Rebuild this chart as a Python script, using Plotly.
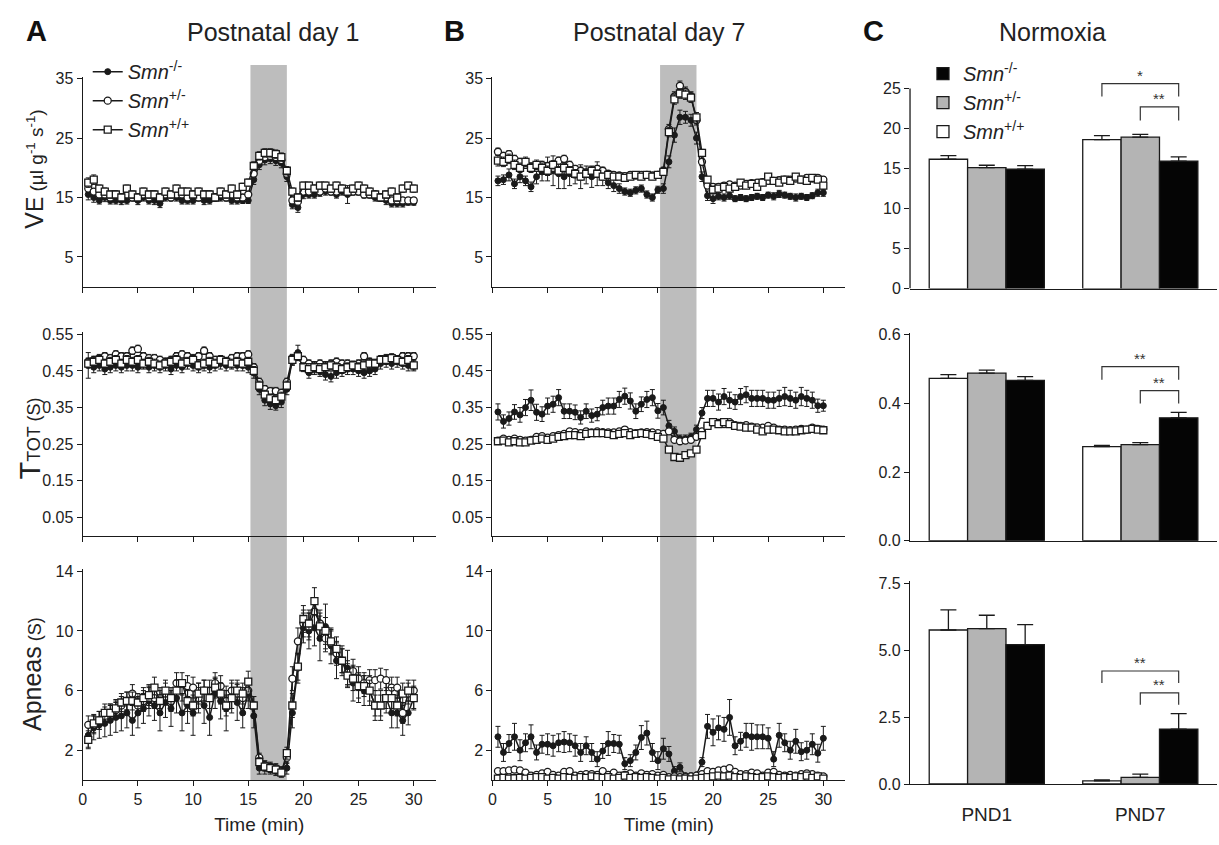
import plotly.graph_objects as go

# ---------------- data ----------------
TIME = [0.5, 1.0, 1.5, 2.0, 2.5, 3.0, 3.5, 4.0, 4.5, 5.0,
        5.5, 6.0, 6.5, 7.0, 7.5, 8.0, 8.5, 9.0, 9.5, 10.0,
        10.5, 11.0, 11.5, 12.0, 12.5, 13.0, 13.5, 14.0, 14.5, 15.0,
        15.5, 16.0, 16.5, 17.0, 17.5, 18.0, 18.5, 19.0, 19.5, 20.0,
        20.5, 21.0, 21.5, 22.0, 22.5, 23.0, 23.5, 24.0, 24.5, 25.0,
        25.5, 26.0, 26.5, 27.0, 27.5, 28.0, 28.5, 29.0, 29.5, 30.0]
HYPOXIA = [15.2, 18.5]
X_TICKS = [0, 5, 10, 15, 20, 25, 30]

GENOTYPES = ["KO", "HET", "WT"]
LABELS = {"KO": "<i>Smn</i><sup>-/-</sup>",
          "HET": "<i>Smn</i><sup>+/-</sup>",
          "WT": "<i>Smn</i><sup>+/+</sup>"}

# --- Ventilation (VE), PND1 ---
VE_P1_KO = [15.5, 15.0, 14.5, 15.0, 14.5, 14.5, 14.5, 14.5, 15.0, 14.5,
            15.0, 14.5, 14.5, 14.0, 15.0, 15.0, 15.0, 14.5, 14.5, 14.5,
            15.0, 14.5, 14.5, 15.0, 15.0, 15.0, 14.5, 14.5, 14.5, 14.5,
            18.0, 20.5, 21.3, 21.5, 21.2, 20.8, 18.5, 13.8, 13.3, 15.5,
            15.5, 15.5, 15.8, 16.0, 16.0, 15.5, 16.0, 15.5, 16.0, 16.0,
            15.5, 15.5, 15.0, 15.0, 14.5, 14.0, 14.0, 14.0, 14.2, 14.2]
VE_P1_KO_ERR = [0.9, 0.8, 0.6, 0.7, 0.6, 0.6, 0.7, 0.6, 0.6, 0.7,
                0.6, 0.6, 0.7, 0.7, 0.6, 0.6, 0.6, 0.6, 0.6, 0.6,
                0.6, 0.7, 0.6, 0.6, 0.6, 0.6, 0.6, 0.6, 0.5, 0.5,
                0.8, 0.8, 0.8, 0.8, 0.8, 0.8, 0.8, 0.7, 0.8, 0.7,
                0.6, 0.6, 0.6, 0.6, 0.6, 0.6, 0.6, 1.5, 0.6, 0.6,
                0.6, 0.6, 0.6, 0.6, 0.7, 0.6, 0.6, 0.6, 0.5, 0.5]
VE_P1_HET = [16.5, 16.0, 15.5, 15.5, 15.0, 15.5, 15.0, 15.5, 15.0, 15.0,
             15.5, 15.0, 15.5, 15.0, 15.5, 15.0, 15.5, 15.5, 15.0, 15.5,
             15.0, 15.5, 15.5, 15.0, 15.5, 15.0, 15.5, 15.0, 15.0, 15.5,
             19.0, 21.2, 21.8, 22.0, 21.8, 21.3, 19.0, 14.5, 14.3, 16.0,
             16.0, 16.5, 16.0, 16.5, 16.0, 16.0, 16.5, 16.0, 16.0, 16.0,
             15.5, 15.5, 15.5, 15.0, 15.0, 14.5, 14.5, 14.5, 14.5, 14.5]
VE_P1_HET_ERR = [0.6, 0.5, 0.5, 0.5, 0.5, 0.5, 0.5, 0.5, 0.5, 0.5,
                 0.5, 0.5, 0.5, 0.5, 0.5, 0.5, 0.5, 0.5, 0.5, 0.5,
                 0.5, 0.5, 0.5, 0.5, 0.5, 0.5, 0.5, 0.5, 0.5, 0.5,
                 0.6, 0.6, 0.6, 0.6, 0.6, 0.6, 0.6, 0.6, 0.6, 0.5,
                 0.5, 0.5, 0.5, 0.5, 0.5, 0.5, 0.5, 0.5, 0.5, 0.5,
                 0.5, 0.5, 0.5, 0.5, 0.5, 0.5, 0.5, 0.5, 0.5, 0.5]
VE_P1_WT = [17.5, 18.0, 16.5, 16.0, 15.5, 15.5, 15.0, 16.5, 15.5, 15.0,
            16.0, 15.5, 15.5, 15.0, 16.0, 15.5, 16.5, 16.0, 16.0, 15.5,
            16.0, 15.5, 15.5, 15.0, 16.0, 15.5, 16.5, 15.5, 16.8, 17.5,
            20.3, 22.0, 22.5, 22.5, 22.3, 21.8, 19.5, 16.0, 15.0, 17.0,
            17.0, 16.5, 17.0, 17.0, 16.5, 17.0, 16.5, 16.0, 16.5, 17.0,
            16.5, 16.0, 15.5, 15.0, 15.5, 16.0, 15.0, 16.5, 17.0, 16.5]
VE_P1_WT_ERR = [0.8, 0.8, 0.6, 0.6, 0.6, 0.6, 0.6, 0.6, 0.6, 0.6,
                0.6, 0.6, 0.6, 0.6, 0.6, 0.6, 0.6, 0.6, 0.6, 0.6,
                0.6, 0.6, 0.6, 0.6, 0.6, 0.6, 0.6, 0.6, 0.6, 0.6,
                0.7, 0.7, 0.7, 0.7, 0.7, 0.7, 0.7, 0.6, 0.6, 0.6,
                0.6, 0.6, 0.6, 0.6, 0.6, 0.6, 0.6, 0.6, 0.6, 0.6,
                0.6, 0.6, 0.6, 0.6, 0.6, 0.6, 0.6, 0.6, 0.6, 0.6]

# --- Ventilation (VE), PND7 ---
VE_P7_KO = [17.8, 18.0, 18.8, 17.3, 18.5, 17.8, 16.8, 18.5, 19.3, 19.8,
            19.5, 19.0, 18.5, 19.0, 18.8, 18.5, 18.8, 18.5, 19.0, 18.5,
            17.5, 17.0, 16.5, 16.0, 15.8, 16.2, 16.5, 15.5, 15.0, 16.3,
            16.5, 21.0, 25.5, 28.5, 28.5, 28.0, 25.0, 18.5, 15.3, 14.8,
            15.2, 15.0, 15.3, 14.8, 15.0, 14.8, 15.0, 15.2, 15.0, 15.4,
            15.2, 15.6, 15.4, 15.2, 15.0, 15.2, 15.0, 15.3, 15.8, 15.8]
VE_P7_KO_ERR = [0.8, 0.8, 1.0, 0.8, 1.0, 0.8, 0.8, 1.2, 1.5, 2.0,
                2.5, 2.5, 2.0, 2.0, 1.5, 2.0, 1.5, 1.8, 2.0, 1.5,
                1.0, 1.0, 0.8, 0.6, 0.6, 0.6, 0.6, 0.6, 0.6, 0.6,
                0.8, 1.0, 1.2, 1.2, 1.0, 1.0, 1.0, 0.8, 0.8, 0.8,
                0.6, 0.6, 0.6, 0.5, 0.5, 0.5, 0.5, 0.5, 0.5, 0.5,
                0.6, 0.6, 0.5, 0.5, 0.6, 0.5, 0.5, 0.5, 0.6, 0.6]
VE_P7_HET = [22.7, 22.0, 22.3, 21.5, 21.0, 20.5, 20.2, 20.0, 20.5, 20.3,
             20.0, 21.2, 21.5, 20.5, 19.8, 19.5, 19.2, 19.5, 19.8, 19.5,
             19.0, 18.8, 18.7, 18.6, 18.8, 18.7, 18.8, 18.8, 18.7, 18.8,
             19.5, 26.5, 32.0, 33.8, 32.8, 32.0, 28.0, 21.0, 17.0, 16.8,
             16.8, 17.0, 17.2, 17.0, 17.0, 17.3, 17.4, 17.5, 17.6, 17.8,
             17.8, 17.9, 18.0, 18.0, 18.2, 18.0, 18.3, 18.2, 18.3, 18.0]
VE_P7_HET_ERR = [0.6, 0.6, 0.6, 0.6, 0.6, 0.6, 0.6, 0.6, 0.6, 0.6,
                 0.6, 0.6, 0.6, 0.6, 0.6, 0.6, 0.6, 0.6, 0.6, 0.6,
                 0.5, 0.5, 0.5, 0.5, 0.5, 0.5, 0.5, 0.5, 0.5, 0.5,
                 0.6, 0.8, 0.8, 0.8, 0.8, 0.8, 0.8, 0.6, 0.5, 0.5,
                 0.5, 0.5, 0.5, 0.5, 0.5, 0.5, 0.5, 0.5, 0.5, 0.5,
                 0.5, 0.5, 0.5, 0.5, 0.5, 0.5, 0.5, 0.5, 0.5, 0.5]
VE_P7_WT = [21.2, 21.0, 21.5, 20.5, 20.0, 21.0, 20.0, 20.5, 20.0, 19.5,
            20.5, 19.5, 20.0, 19.5, 19.0, 18.5, 19.0, 19.5, 19.0, 18.5,
            18.8, 18.5, 18.5, 18.3, 18.5, 18.8, 18.5, 18.8, 18.5, 18.8,
            19.3, 26.0, 31.5, 32.5, 32.3, 31.8, 28.5, 22.5, 18.0, 16.3,
            16.5, 16.8, 16.5, 16.8, 17.5, 17.0, 17.3, 16.8, 17.5, 18.5,
            17.8, 17.5, 18.0, 17.8, 18.5, 18.0, 17.8, 18.3, 18.0, 17.0]
VE_P7_WT_ERR = [0.9, 0.8, 0.8, 0.8, 0.8, 0.8, 0.8, 0.8, 0.8, 0.8,
                0.7, 0.7, 0.7, 0.7, 0.7, 0.6, 0.6, 0.6, 0.6, 0.6,
                0.5, 0.5, 0.5, 0.5, 0.5, 0.5, 0.5, 0.5, 0.5, 0.5,
                0.6, 0.8, 0.8, 0.8, 0.8, 0.8, 0.8, 0.6, 0.5, 0.5,
                0.5, 0.5, 0.5, 0.5, 0.5, 0.5, 0.5, 0.5, 0.5, 0.5,
                0.5, 0.5, 0.5, 0.5, 0.5, 0.5, 0.5, 0.5, 0.5, 0.5]

# --- Total breath duration (TTOT), PND1 ---
TT_P1_KO = [0.465, 0.46, 0.465, 0.455, 0.46, 0.465, 0.46, 0.465, 0.465, 0.46,
            0.47, 0.46, 0.465, 0.46, 0.465, 0.455, 0.465, 0.46, 0.47, 0.465,
            0.46, 0.465, 0.46, 0.465, 0.47, 0.465, 0.47, 0.465, 0.465, 0.46,
            0.445, 0.40, 0.37, 0.36, 0.355, 0.365, 0.40, 0.48, 0.50, 0.47,
            0.445, 0.455, 0.45, 0.44, 0.435, 0.445, 0.45, 0.455, 0.455, 0.45,
            0.445, 0.45, 0.455, 0.47, 0.475, 0.47, 0.475, 0.47, 0.465, 0.465]
TT_P1_KO_ERR = [0.035, 0.015, 0.015, 0.015, 0.015, 0.015, 0.015, 0.015, 0.015, 0.015,
                0.015, 0.015, 0.015, 0.015, 0.015, 0.015, 0.015, 0.015, 0.015, 0.015,
                0.015, 0.015, 0.015, 0.015, 0.015, 0.015, 0.015, 0.015, 0.015, 0.015,
                0.015, 0.015, 0.015, 0.015, 0.012, 0.015, 0.015, 0.015, 0.02, 0.015,
                0.015, 0.015, 0.015, 0.015, 0.015, 0.015, 0.015, 0.015, 0.015, 0.015,
                0.015, 0.015, 0.015, 0.015, 0.015, 0.015, 0.015, 0.015, 0.015, 0.015]
TT_P1_HET = [0.475, 0.48, 0.485, 0.49, 0.485, 0.495, 0.49, 0.49, 0.505, 0.51,
             0.49, 0.485, 0.485, 0.48, 0.475, 0.48, 0.49, 0.495, 0.49, 0.485,
             0.49, 0.505, 0.49, 0.48, 0.48, 0.475, 0.485, 0.49, 0.49, 0.495,
             0.46, 0.42, 0.40, 0.395, 0.395, 0.39, 0.42, 0.485, 0.49, 0.48,
             0.47, 0.465, 0.47, 0.465, 0.47, 0.475, 0.47, 0.47, 0.465, 0.47,
             0.49, 0.475, 0.47, 0.48, 0.485, 0.485, 0.48, 0.49, 0.49, 0.49]
TT_P1_HET_ERR = [0.01, 0.01, 0.01, 0.01, 0.01, 0.01, 0.01, 0.01, 0.01, 0.01,
                 0.01, 0.01, 0.01, 0.01, 0.01, 0.01, 0.01, 0.01, 0.01, 0.01,
                 0.01, 0.01, 0.01, 0.01, 0.01, 0.01, 0.01, 0.01, 0.01, 0.01,
                 0.01, 0.01, 0.01, 0.01, 0.01, 0.01, 0.01, 0.01, 0.01, 0.01,
                 0.01, 0.01, 0.01, 0.01, 0.01, 0.01, 0.01, 0.01, 0.01, 0.01,
                 0.01, 0.01, 0.01, 0.01, 0.01, 0.01, 0.01, 0.01, 0.01, 0.01]
TT_P1_WT = [0.47, 0.475, 0.48, 0.47, 0.475, 0.48, 0.47, 0.48, 0.475, 0.48,
            0.47, 0.475, 0.47, 0.465, 0.47, 0.475, 0.48, 0.47, 0.475, 0.48,
            0.465, 0.47, 0.475, 0.47, 0.48, 0.475, 0.47, 0.475, 0.47, 0.475,
            0.45, 0.41, 0.385, 0.375, 0.37, 0.38, 0.41, 0.48, 0.49, 0.46,
            0.455, 0.46, 0.455, 0.46, 0.465, 0.46, 0.455, 0.46, 0.465, 0.46,
            0.465, 0.47, 0.47, 0.48, 0.48, 0.485, 0.48, 0.475, 0.48, 0.465]
TT_P1_WT_ERR = [0.012, 0.012, 0.012, 0.012, 0.012, 0.012, 0.012, 0.012, 0.012, 0.012,
                0.012, 0.012, 0.012, 0.012, 0.012, 0.012, 0.012, 0.012, 0.012, 0.012,
                0.012, 0.012, 0.012, 0.012, 0.012, 0.012, 0.012, 0.012, 0.012, 0.012,
                0.012, 0.012, 0.012, 0.012, 0.012, 0.012, 0.012, 0.012, 0.012, 0.012,
                0.015, 0.015, 0.015, 0.015, 0.012, 0.012, 0.012, 0.012, 0.012, 0.012,
                0.012, 0.012, 0.012, 0.012, 0.012, 0.012, 0.012, 0.012, 0.012, 0.012]

# --- Total breath duration (TTOT), PND7 ---
TT_P7_KO = [0.338, 0.312, 0.32, 0.338, 0.33, 0.35, 0.37, 0.337, 0.332, 0.354,
            0.359, 0.377, 0.34, 0.34, 0.337, 0.323, 0.34, 0.328, 0.332, 0.35,
            0.354, 0.354, 0.372, 0.381, 0.368, 0.34, 0.359, 0.372, 0.377, 0.341,
            0.35, 0.30, 0.285, 0.265, 0.265, 0.27, 0.29, 0.335, 0.375, 0.375,
            0.365, 0.38, 0.37, 0.365, 0.38, 0.385, 0.375, 0.375, 0.375, 0.37,
            0.37, 0.375, 0.38, 0.375, 0.37, 0.38, 0.375, 0.37, 0.355, 0.355]
TT_P7_KO_ERR = [0.022, 0.018, 0.018, 0.02, 0.02, 0.022, 0.028, 0.022, 0.02, 0.022,
                0.022, 0.022, 0.02, 0.02, 0.02, 0.018, 0.02, 0.018, 0.018, 0.02,
                0.022, 0.022, 0.022, 0.022, 0.022, 0.02, 0.02, 0.022, 0.022, 0.02,
                0.02, 0.015, 0.012, 0.01, 0.01, 0.01, 0.012, 0.015, 0.022, 0.022,
                0.022, 0.022, 0.022, 0.02, 0.022, 0.022, 0.022, 0.022, 0.022, 0.022,
                0.022, 0.022, 0.025, 0.022, 0.022, 0.025, 0.022, 0.022, 0.018, 0.015]
TT_P7_HET = [0.26, 0.265, 0.262, 0.265, 0.262, 0.26, 0.262, 0.27, 0.272, 0.268,
             0.272, 0.275, 0.278, 0.285, 0.283, 0.28, 0.285, 0.282, 0.285, 0.283,
             0.282, 0.282, 0.285, 0.29, 0.283, 0.28, 0.282, 0.283, 0.282, 0.28,
             0.278, 0.285, 0.262, 0.258, 0.26, 0.262, 0.27, 0.285, 0.30, 0.31,
             0.308, 0.305, 0.31, 0.302, 0.30, 0.302, 0.298, 0.296, 0.295, 0.30,
             0.295, 0.29, 0.29, 0.288, 0.29, 0.292, 0.29, 0.295, 0.292, 0.29]
TT_P7_HET_ERR = [0.004, 0.004, 0.004, 0.004, 0.004, 0.004, 0.004, 0.004, 0.004, 0.004,
                 0.004, 0.004, 0.004, 0.004, 0.004, 0.004, 0.004, 0.004, 0.004, 0.004,
                 0.004, 0.004, 0.004, 0.004, 0.004, 0.004, 0.004, 0.004, 0.004, 0.004,
                 0.004, 0.004, 0.004, 0.004, 0.004, 0.004, 0.004, 0.004, 0.004, 0.004,
                 0.004, 0.004, 0.004, 0.004, 0.004, 0.004, 0.004, 0.004, 0.004, 0.004,
                 0.004, 0.004, 0.004, 0.004, 0.004, 0.004, 0.004, 0.004, 0.004, 0.004]
TT_P7_WT = [0.258, 0.26, 0.255, 0.258, 0.255, 0.255, 0.26, 0.262, 0.265, 0.262,
            0.265, 0.27, 0.272, 0.275, 0.275, 0.272, 0.278, 0.28, 0.28, 0.28,
            0.278, 0.275, 0.278, 0.28, 0.275, 0.278, 0.28, 0.278, 0.275, 0.27,
            0.265, 0.235, 0.215, 0.213, 0.22, 0.225, 0.235, 0.275, 0.30, 0.31,
            0.305, 0.31, 0.305, 0.30, 0.298, 0.295, 0.295, 0.29, 0.285, 0.29,
            0.29, 0.288, 0.285, 0.285, 0.285, 0.288, 0.29, 0.292, 0.29, 0.288]
TT_P7_WT_ERR = [0.004, 0.004, 0.004, 0.004, 0.004, 0.004, 0.004, 0.004, 0.004, 0.004,
                0.004, 0.004, 0.004, 0.004, 0.004, 0.004, 0.004, 0.004, 0.004, 0.004,
                0.004, 0.004, 0.004, 0.004, 0.004, 0.004, 0.004, 0.004, 0.004, 0.004,
                0.004, 0.004, 0.004, 0.004, 0.004, 0.004, 0.004, 0.004, 0.004, 0.004,
                0.004, 0.004, 0.004, 0.004, 0.004, 0.004, 0.004, 0.004, 0.004, 0.004,
                0.004, 0.004, 0.004, 0.004, 0.004, 0.004, 0.004, 0.004, 0.004, 0.004]

# --- Apneas, PND1 ---
AP_P1_KO = [3.0, 3.5, 3.7, 3.8, 4.0, 4.2, 4.3, 4.5, 4.0, 4.5,
            4.8, 5.3, 5.0, 4.5, 5.2, 4.8, 5.5, 4.5, 5.0, 4.5,
            5.5, 5.0, 4.2, 5.8, 5.3, 4.8, 5.5, 5.2, 4.5, 5.8,
            4.3, 0.8, 0.8, 0.7, 0.6, 0.5, 0.8, 4.5, 7.5, 10.2,
            10.0, 10.2, 9.5, 10.3, 9.0, 8.0, 8.0, 7.5, 6.5, 6.2,
            6.0, 6.0, 5.0, 5.0, 5.5, 4.5, 4.5, 4.0, 4.5, 5.5]
AP_P1_KO_ERR = [0.8, 0.8, 0.9, 0.9, 1.0, 1.0, 1.0, 1.0, 1.0, 1.0,
                1.0, 1.0, 1.0, 1.2, 1.0, 1.2, 1.0, 1.2, 1.2, 1.5,
                1.0, 1.2, 1.2, 1.0, 1.2, 1.5, 1.0, 1.2, 1.0, 1.0,
                0.8, 0.4, 0.4, 0.3, 0.3, 0.3, 0.4, 1.0, 1.0, 1.0,
                1.2, 1.2, 1.5, 1.5, 1.2, 1.2, 1.0, 1.2, 1.2, 1.0,
                1.0, 1.0, 1.0, 1.0, 1.0, 1.0, 1.0, 1.0, 0.8, 0.8]
AP_P1_HET = [3.7, 3.7, 4.0, 4.3, 4.5, 4.7, 5.0, 5.3, 5.8, 5.0,
             5.3, 5.5, 5.5, 5.5, 5.8, 5.3, 6.5, 6.0, 6.3, 6.2,
             5.5, 6.0, 6.0, 6.5, 6.3, 5.3, 6.0, 5.8, 5.5, 6.0,
             5.0, 1.5, 1.0, 0.9, 0.8, 0.6, 1.5, 6.8, 9.3, 10.5,
             10.3, 11.3, 10.5, 9.5, 9.2, 8.5, 8.0, 7.2, 7.3, 6.8,
             6.5, 6.7, 6.7, 6.8, 6.7, 6.2, 6.2, 4.5, 5.8, 6.0]
AP_P1_HET_ERR = [0.6, 0.6, 0.6, 0.6, 0.6, 0.6, 0.6, 0.6, 0.6, 0.6,
                 0.7, 0.7, 0.7, 0.7, 0.7, 0.7, 0.7, 0.7, 0.7, 0.7,
                 0.7, 0.7, 0.7, 0.7, 0.7, 0.7, 0.7, 0.7, 0.7, 0.7,
                 0.6, 0.3, 0.3, 0.3, 0.3, 0.3, 0.4, 0.8, 0.9, 0.9,
                 0.9, 0.9, 0.9, 0.9, 0.8, 0.8, 0.8, 0.8, 0.8, 0.8,
                 0.7, 0.7, 0.7, 0.7, 0.7, 0.7, 0.7, 0.7, 0.7, 0.7]
AP_P1_WT = [2.7, 3.8, 4.0, 4.5, 4.5, 4.8, 5.2, 5.3, 5.3, 5.2,
            5.5, 5.7, 6.2, 5.3, 6.0, 5.5, 6.0, 6.5, 5.3, 5.0,
            5.8, 6.0, 5.5, 6.2, 5.8, 5.0, 5.5, 6.0, 5.8, 6.6,
            5.0, 1.2, 0.9, 0.8, 0.7, 0.5, 1.8, 5.0, 7.6, 10.8,
            10.5, 12.0, 10.3, 10.0, 9.3, 8.8, 8.0, 7.0, 6.8, 6.3,
            6.3, 6.0, 5.0, 5.0, 5.5, 5.5, 5.0, 5.8, 6.0, 5.5]
AP_P1_WT_ERR = [0.6, 0.6, 0.6, 0.6, 0.6, 0.6, 0.6, 0.6, 0.6, 0.6,
                0.7, 0.7, 0.7, 0.7, 0.7, 0.7, 0.7, 0.7, 0.7, 0.7,
                0.7, 0.7, 0.7, 0.7, 0.7, 0.7, 0.7, 0.7, 0.7, 0.7,
                0.6, 0.3, 0.3, 0.3, 0.3, 0.3, 0.4, 0.8, 0.9, 0.9,
                0.9, 0.9, 0.9, 0.9, 0.8, 0.8, 0.8, 0.8, 0.8, 0.8,
                0.7, 0.7, 0.7, 0.7, 0.7, 0.7, 0.7, 0.7, 0.7, 0.7]

# --- Apneas, PND7 ---
AP_P7_KO = [2.9, 1.85, 2.45, 2.9, 2.0, 2.5, 2.9, 1.85, 2.4, 2.4,
            2.3, 2.5, 2.55, 2.5, 2.3, 1.85, 2.3, 1.85, 1.4, 1.95,
            2.45, 2.45, 2.4, 1.1, 1.3, 1.85, 2.85, 3.15, 1.85, 1.3,
            2.1, 1.75, 0.6, 0.85, 0.3, 0.3, 0.35, 1.2, 3.6, 3.2,
            3.5, 3.4, 4.2, 2.3, 2.6, 3.0, 2.9, 2.9, 2.9, 2.8,
            1.4, 3.0, 2.5, 2.0, 2.6, 1.9, 2.0, 2.4, 1.8, 2.8]
AP_P7_KO_ERR = [0.7, 0.6, 0.6, 0.9, 0.7, 0.6, 0.8, 0.5, 0.6, 0.7,
                0.7, 0.6, 0.7, 0.6, 0.7, 0.6, 0.6, 0.6, 0.5, 0.5,
                0.8, 0.6, 0.6, 0.4, 0.4, 0.5, 0.8, 0.8, 0.6, 0.6,
                0.7, 0.5, 0.3, 0.3, 0.1, 0.1, 0.1, 0.3, 0.8, 0.9,
                0.8, 0.8, 1.2, 0.6, 0.6, 0.8, 0.9, 0.8, 0.8, 0.7,
                0.5, 0.8, 0.6, 0.6, 0.8, 0.6, 0.6, 0.7, 0.6, 0.8]
AP_P7_HET = [0.6, 0.6, 0.65, 0.7, 0.65, 0.5, 0.3, 0.35, 0.45, 0.55,
             0.35, 0.3, 0.55, 0.6, 0.3, 0.35, 0.4, 0.4, 0.35, 0.6,
             0.35, 0.5, 0.3, 0.35, 0.45, 0.3, 0.45, 0.35, 0.4, 0.3,
             0.35, 0.2, 0.25, 0.2, 0.2, 0.25, 0.3, 0.4, 0.6, 0.55,
             0.65, 0.7, 0.8, 0.55, 0.4, 0.4, 0.5, 0.45, 0.3, 0.5,
             0.55, 0.35, 0.3, 0.35, 0.3, 0.4, 0.45, 0.4, 0.3, 0.25]
AP_P7_HET_ERR = [0.1, 0.1, 0.1, 0.1, 0.1, 0.1, 0.1, 0.1, 0.1, 0.1,
                 0.1, 0.1, 0.1, 0.1, 0.1, 0.1, 0.1, 0.1, 0.1, 0.1,
                 0.1, 0.1, 0.1, 0.1, 0.1, 0.1, 0.1, 0.1, 0.1, 0.1,
                 0.1, 0.1, 0.1, 0.1, 0.1, 0.1, 0.1, 0.1, 0.1, 0.1,
                 0.1, 0.1, 0.1, 0.1, 0.1, 0.1, 0.1, 0.1, 0.1, 0.1,
                 0.1, 0.1, 0.1, 0.1, 0.1, 0.1, 0.1, 0.1, 0.1, 0.1]
AP_P7_WT = [0.1, 0.15, 0.1, 0.12, 0.15, 0.1, 0.15, 0.2, 0.2, 0.1,
            0.15, 0.1, 0.2, 0.15, 0.1, 0.2, 0.15, 0.25, 0.2, 0.15,
            0.2, 0.1, 0.15, 0.3, 0.15, 0.2, 0.15, 0.2, 0.15, 0.1,
            0.15, 0.05, 0.1, 0.05, 0.1, 0.05, 0.1, 0.15, 0.2, 0.25,
            0.3, 0.25, 0.3, 0.2, 0.15, 0.25, 0.2, 0.15, 0.2, 0.25,
            0.2, 0.15, 0.2, 0.15, 0.25, 0.2, 0.3, 0.15, 0.25, 0.1]
AP_P7_WT_ERR = [0.06, 0.06, 0.06, 0.06, 0.06, 0.06, 0.06, 0.06, 0.06, 0.06,
                0.06, 0.06, 0.06, 0.06, 0.06, 0.06, 0.06, 0.06, 0.06, 0.06,
                0.06, 0.06, 0.06, 0.06, 0.06, 0.06, 0.06, 0.06, 0.06, 0.06,
                0.06, 0.06, 0.06, 0.06, 0.06, 0.06, 0.06, 0.06, 0.06, 0.06,
                0.06, 0.06, 0.06, 0.06, 0.06, 0.06, 0.06, 0.06, 0.06, 0.06,
                0.06, 0.06, 0.06, 0.06, 0.06, 0.06, 0.06, 0.06, 0.06, 0.06]

# --- Normoxia bar data (groups PND1, PND7) ---
GROUPS = ["PND1", "PND7"]
VE_BAR = {"WT": [16.15, 18.6], "HET": [15.1, 18.9], "KO": [14.9, 15.9]}
VE_BAR_ERR = {"WT": [0.45, 0.5], "HET": [0.3, 0.35], "KO": [0.45, 0.55]}
TT_BAR = {"WT": [0.473, 0.274], "HET": [0.488, 0.280], "KO": [0.467, 0.358]}
TT_BAR_ERR = {"WT": [0.011, 0.004], "HET": [0.009, 0.006], "KO": [0.011, 0.016]}
AP_BAR = {"WT": [5.75, 0.12], "HET": [5.8, 0.25], "KO": [5.2, 2.05]}
AP_BAR_ERR = {"WT": [0.75, 0.03], "HET": [0.5, 0.12], "KO": [0.75, 0.58]}
# significance brackets on PND7: (from, to, top, leg end, label)
VE_SIG = [("WT", "KO", 25.6, 24.0, "*"), ("HET", "KO", 22.7, 21.0, "**")]
TT_SIG = [("WT", "KO", 0.507, 0.469, "**"), ("HET", "KO", 0.437, 0.400, "**")]
AP_SIG = [("WT", "KO", 4.22, 3.77, "**"), ("HET", "KO", 3.40, 2.96, "**")]

# ---------------- style ----------------
FONT = "Liberation Sans, Arial, Helvetica, sans-serif"
INK = "#1a1a1a"
W, H = 1219, 845
MARKERS = {
    "KO": dict(symbol="circle", size=6, color=INK, line=dict(color=INK, width=1)),
    "HET": dict(symbol="circle", size=7, color="white", line=dict(color=INK, width=1.3)),
    "WT": dict(symbol="square", size=7, color="white", line=dict(color=INK, width=1.3)),
}
BAR_FILL = {"WT": "white", "HET": "#b4b4b4", "KO": "#050505"}
BAR_OFFSET = {"WT": -0.25, "HET": 0.0, "KO": 0.25}
BAR_WIDTH = 0.25

X_DOM = [[0.0648, 0.3554], [0.402, 0.6925], [0.7457, 0.9984]]
Y_DOM_TS = [[0.6627, 0.9157], [0.3621, 0.6079], [0.0675, 0.322]]
Y_DOM_BAR = [[0.6604, 0.9115], [0.3562, 0.6067], [0.0627, 0.307]]
Y_RANGE_TS = [[0, 35.3], [0, 0.556], [0, 14.15]]
Y_TICKS_TS = [[5, 15, 25, 35], [0.05, 0.15, 0.25, 0.35, 0.45, 0.55], [2, 6, 10, 14]]
Y_FMT_TS = ["d", ".2f", "d"]
Y_RANGE_BAR = [[0, 26], [0, 0.605], [0, 7.56]]
Y_TICKS_BAR = [[0, 5, 10, 15, 20, 25], [0.0, 0.2, 0.4, 0.6], [0.0, 2.5, 5.0, 7.5]]
Y_FMT_BAR = ["d", ".1f", ".1f"]


def ids(row, col):
    i = row * 3 + col + 1
    s = "" if i == 1 else str(i)
    return "x" + s, "y" + s, "xaxis" + s, "yaxis" + s


fig = go.Figure()

TS_PANELS = [
    (0, 0, {"KO": (VE_P1_KO, VE_P1_KO_ERR), "HET": (VE_P1_HET, VE_P1_HET_ERR), "WT": (VE_P1_WT, VE_P1_WT_ERR)}),
    (0, 1, {"KO": (VE_P7_KO, VE_P7_KO_ERR), "HET": (VE_P7_HET, VE_P7_HET_ERR), "WT": (VE_P7_WT, VE_P7_WT_ERR)}),
    (1, 0, {"KO": (TT_P1_KO, TT_P1_KO_ERR), "HET": (TT_P1_HET, TT_P1_HET_ERR), "WT": (TT_P1_WT, TT_P1_WT_ERR)}),
    (1, 1, {"KO": (TT_P7_KO, TT_P7_KO_ERR), "HET": (TT_P7_HET, TT_P7_HET_ERR), "WT": (TT_P7_WT, TT_P7_WT_ERR)}),
    (2, 0, {"KO": (AP_P1_KO, AP_P1_KO_ERR), "HET": (AP_P1_HET, AP_P1_HET_ERR), "WT": (AP_P1_WT, AP_P1_WT_ERR)}),
    (2, 1, {"KO": (AP_P7_KO, AP_P7_KO_ERR), "HET": (AP_P7_HET, AP_P7_HET_ERR), "WT": (AP_P7_WT, AP_P7_WT_ERR)}),
]

for row, col, series in TS_PANELS:
    xa, ya, _, _ = ids(row, col)
    for g in GENOTYPES:
        vals, err = series[g]
        fig.add_trace(go.Scatter(
            x=TIME, y=vals, mode="lines+markers", name=LABELS[g],
            line=dict(color=INK, width=1.5), marker=MARKERS[g],
            error_y=dict(type="data", array=err, visible=True, color=INK,
                         thickness=1, width=2.5),
            xaxis=xa, yaxis=ya, legend="legend",
            showlegend=(row == 0 and col == 0), hoverinfo="skip"))

BAR_PANELS = [(0, VE_BAR, VE_BAR_ERR, VE_SIG), (1, TT_BAR, TT_BAR_ERR, TT_SIG),
              (2, AP_BAR, AP_BAR_ERR, AP_SIG)]
annotations = []
shapes = []
for row, vals, errs, sigs in BAR_PANELS:
    xa, ya, _, _ = ids(row, 2)
    for g in ["WT", "HET", "KO"]:
        fig.add_trace(go.Bar(
            x=[i + BAR_OFFSET[g] for i in range(len(GROUPS))], y=vals[g],
            width=BAR_WIDTH, name=LABELS[g],
            marker=dict(color=BAR_FILL[g], line=dict(color=INK, width=1.3)),
            error_y=dict(type="data", array=errs[g], arrayminus=[0] * len(GROUPS),
                         symmetric=False, visible=True, color=INK, thickness=1.3, width=8),
            xaxis=xa, yaxis=ya, legend="legend2", showlegend=(row == 0),
            hoverinfo="skip"))
    for a, b, top, leg, lab in sigs:
        gi = GROUPS.index("PND7")
        xl, xr = gi + BAR_OFFSET[a], gi + BAR_OFFSET[b]
        fig.add_trace(go.Scatter(
            x=[xl, xl, xr, xr], y=[leg, top, top, leg], mode="lines",
            line=dict(color="#333333", width=1.2), xaxis=xa, yaxis=ya,
            showlegend=False, hoverinfo="skip", cliponaxis=False))
        annotations.append(dict(x=(xl + xr) / 2, y=top, xref=xa, yref=ya, text=lab,
                                showarrow=False, yanchor="bottom", yshift=-2,
                                font=dict(size=15, color="#333333")))

# hypoxia bands spanning the three rows of columns A and B
for col in (0, 1):
    xa, _, _, _ = ids(0, col)
    shapes.append(dict(type="rect", xref=xa, yref="paper", x0=HYPOXIA[0], x1=HYPOXIA[1],
                       y0=1 - 788 / H, y1=1 - 59 / H, fillcolor="#bdbdbd",
                       line=dict(width=0), layer="below"))

# y-axis line of the top bar panel stops at its top tick
xa, ya, _, _ = ids(0, 2)
shapes.append(dict(type="line", xref=xa + " domain", yref=ya, x0=0, x1=0,
                   y0=0, y1=max(Y_TICKS_BAR[0]), line=dict(color=INK, width=1.3)))

axis_common = dict(showline=True, linecolor=INK, linewidth=1.3, ticks="outside",
                   ticklen=5, tickwidth=1.2, tickcolor=INK, showgrid=False,
                   zeroline=False, tickfont=dict(size=16, color="#222"),
                   fixedrange=True)
layout_axes = {}
for row in range(3):
    for col in range(2):
        xa, ya, xk, yk = ids(row, col)
        layout_axes[xk] = dict(axis_common, domain=X_DOM[col], range=[0, 32],
                               tickvals=X_TICKS, anchor=ya,
                               showticklabels=(row == 2))
        if row == 2:
            layout_axes[xk]["title"] = dict(text="Time (min)", font=dict(size=19, color="#222"),
                                            standoff=10)
        layout_axes[yk] = dict(axis_common, domain=Y_DOM_TS[row], range=Y_RANGE_TS[row],
                               tickvals=Y_TICKS_TS[row], tickformat=Y_FMT_TS[row], anchor=xa)
    xa, ya, xk, yk = ids(row, 2)
    layout_axes[xk] = dict(axis_common, domain=X_DOM[2], range=[-0.5, 1.5], ticks="",
                           tickvals=list(range(len(GROUPS))), ticktext=GROUPS,
                           showticklabels=(row == 2), ticklabelstandoff=13,
                           tickfont=dict(size=19, color="#222"), anchor=ya)
    layout_axes[yk] = dict(axis_common, domain=Y_DOM_BAR[row], range=Y_RANGE_BAR[row],
                           tickvals=Y_TICKS_BAR[row], tickformat=Y_FMT_BAR[row], anchor=xa,
                           showline=(row != 0))


def paper(px, py, **kw):
    d = dict(x=px / W, y=1 - py / H, xref="paper", yref="paper", showarrow=False,
             xanchor="center", yanchor="middle")
    d.update(kw)
    return d


annotations += [
    paper(33, 24, text="<b>A</b>", font=dict(size=29, color="#111")),
    paper(452, 24, text="<b>B</b>", font=dict(size=29, color="#111")),
    paper(872, 24, text="<b>C</b>", font=dict(size=29, color="#111")),
    paper(270, 25, text="Postnatal day 1", font=dict(size=25, color="#222")),
    paper(657, 25, text="Postnatal day 7", font=dict(size=25, color="#222")),
    paper(1052, 25, text="Normoxia", font=dict(size=25, color="#222")),
    paper(30, 165, textangle=-90, font=dict(size=19, color="#222"),
          text="<span style='font-size:25px'>V</span><span style='font-size:23px'>E</span>"
               " (µl g<sup>-1</sup> s<sup>-1</sup>)"),
    paper(26, 440, textangle=-90, font=dict(size=18, color="#222"),
          text="<span style='font-size:29px'>T</span>TOT (S)"),
    paper(28, 680, textangle=-90, font=dict(size=18, color="#222"),
          text="<span style='font-size:25px'>Apneas</span> (S)"),
]

fig.update_layout(
    width=W, height=H, margin=dict(l=0, r=0, t=0, b=0),
    paper_bgcolor="white", plot_bgcolor="rgba(0,0,0,0)",
    font=dict(family=FONT, color="#222"),
    barmode="overlay", showlegend=True,
    legend=dict(x=84 / W, y=1 - 46 / H, xanchor="left", yanchor="top",
                bgcolor="rgba(0,0,0,0)", font=dict(size=20, color="#222"),
                itemwidth=30, tracegroupgap=0),
    legend2=dict(x=922 / W, y=1 - 48 / H, xanchor="left", yanchor="top",
                 bgcolor="rgba(0,0,0,0)", font=dict(size=20, color="#222"),
                 traceorder="reversed", itemwidth=30),
    annotations=annotations, shapes=shapes,
    **layout_axes,
)

# remove the browser's default 8px body margin so the figure fills the window exactly
fig.write_html("out.html", config={"displayModeBar": False},
               post_script="document.body.style.margin='0px';")
